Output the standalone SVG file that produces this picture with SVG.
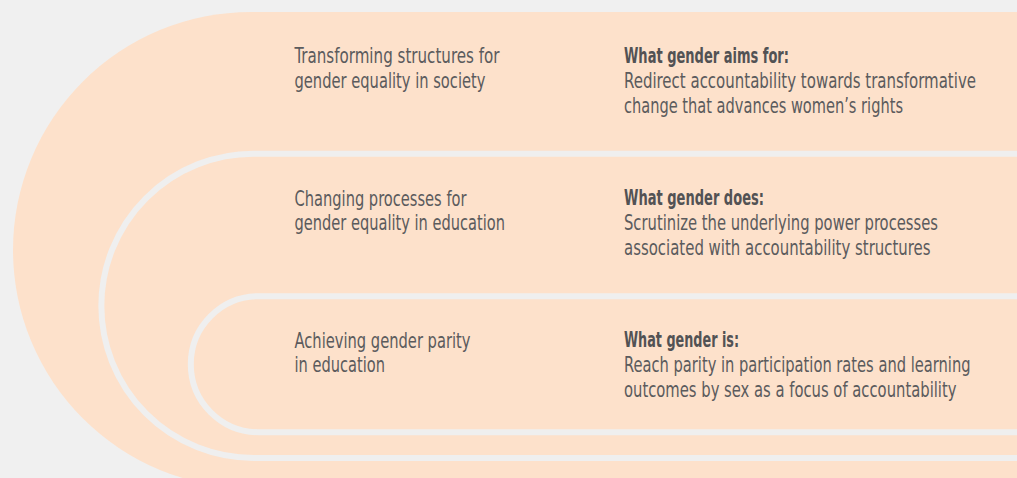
<svg xmlns="http://www.w3.org/2000/svg" width="1017" height="478" viewBox="0 0 1017 478">
  <style>
    .bg { fill: #f0f0f0; }
    .band { fill: #fde1cb; }
    .sep { fill: none; stroke: #efefef; stroke-width: 6; }
    text { font-family: "Liberation Sans Narrow", "DejaVu Sans Condensed", "Liberation Sans", sans-serif; font-size: 20.5px; fill: #5b5b5d; }
    .b { font-weight: bold; fill: #525254; }
  </style>
  <rect class="bg" x="0" y="0" width="1017" height="478"/>
  <g id="shapes">
    <path class="band" d="M 251 12 H 1030 V 488 H 251 A 238 238 0 0 1 251 12 Z"/>
    <path class="sep" d="M 1030 153.7 H 253.5 A 152.15 152.15 0 0 0 253.5 458 H 1030"/>
    <path class="sep" d="M 1030 296.2 H 258.8 A 68 68 0 0 0 258.8 432.2 H 1030"/>
  </g>
  <g id="band-society">
    <text x="294.5" y="63.3" textLength="205" lengthAdjust="spacingAndGlyphs">Transforming structures for</text>
    <text x="294.5" y="88.3" textLength="191" lengthAdjust="spacingAndGlyphs">gender equality in society</text>
    <text class="b" x="624" y="63.3" textLength="165" lengthAdjust="spacingAndGlyphs">What gender aims for:</text>
    <text x="624" y="88.3" textLength="352" lengthAdjust="spacingAndGlyphs">Redirect accountability towards transformative</text>
    <text x="624" y="113.3" textLength="279" lengthAdjust="spacingAndGlyphs">change that advances women’s rights</text>
  </g>
  <g id="band-processes">
    <text x="294.5" y="205.5" textLength="172" lengthAdjust="spacingAndGlyphs">Changing processes for</text>
    <text x="294.5" y="230.3" textLength="210.5" lengthAdjust="spacingAndGlyphs">gender equality in education</text>
    <text class="b" x="624" y="205.3" textLength="140" lengthAdjust="spacingAndGlyphs">What gender does:</text>
    <text x="624" y="230.3" textLength="314" lengthAdjust="spacingAndGlyphs">Scrutinize the underlying power processes</text>
    <text x="624" y="255.3" textLength="306.5" lengthAdjust="spacingAndGlyphs">associated with accountability structures</text>
  </g>
  <g id="band-parity">
    <text x="294.5" y="347.5" textLength="176" lengthAdjust="spacingAndGlyphs">Achieving gender parity</text>
    <text x="294.5" y="372.3" textLength="90.5" lengthAdjust="spacingAndGlyphs">in education</text>
    <text class="b" x="624" y="347.3" textLength="115" lengthAdjust="spacingAndGlyphs">What gender is:</text>
    <text x="624" y="372.3" textLength="346.5" lengthAdjust="spacingAndGlyphs">Reach parity in participation rates and learning</text>
    <text x="624" y="397.3" textLength="332.5" lengthAdjust="spacingAndGlyphs">outcomes by sex as a focus of accountability</text>
  </g>
</svg>
